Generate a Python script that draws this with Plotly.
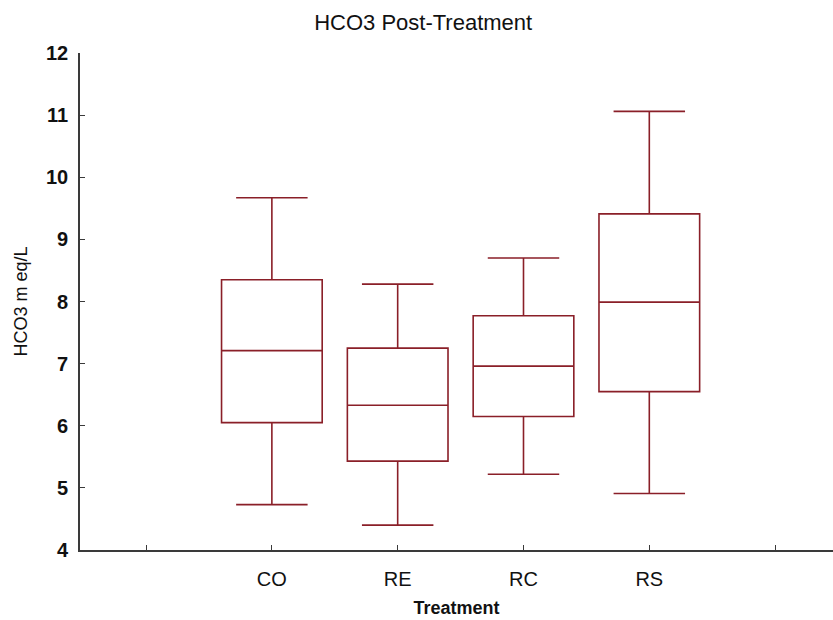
import plotly.graph_objects as go

categories = ["CO", "RE", "RC", "RS"]
positions = [1, 2, 3, 4]
lower_whisker = [4.73, 4.40, 5.22, 4.91]
q1_values = [6.05, 5.43, 6.15, 6.55]
median_values = [7.21, 6.33, 6.96, 7.99]
q3_values = [8.35, 7.25, 7.77, 9.41]
upper_whisker = [9.67, 8.28, 8.70, 11.06]

tick_positions = [0, 1, 2, 3, 4, 5]
tick_labels = [""] + categories + [""]
y_ticks = [4, 5, 6, 7, 8, 9, 10, 11, 12]

box_color = "#8a1f28"
axis_color = "#3a3a3a"
font_family = "Liberation Sans, Arial, sans-serif"

fig = go.Figure()
fig.add_trace(go.Box(
    x=positions,
    q1=q1_values,
    median=median_values,
    q3=q3_values,
    lowerfence=lower_whisker,
    upperfence=upper_whisker,
    width=0.8,
    whiskerwidth=0.71,
    line=dict(color=box_color, width=1.6),
    fillcolor="rgba(255,255,255,0)",
    boxpoints=False,
    showlegend=False,
))

fig.update_layout(
    width=833,
    height=620,
    margin=dict(l=80, r=0, t=53, b=70),
    paper_bgcolor="white",
    plot_bgcolor="white",
    font=dict(family=font_family, color="#111111"),
    title=dict(
        text="HCO3 Post-Treatment",
        x=0.508, xanchor="center",
        y=1 - 22 / 620, yanchor="middle",
        font=dict(size=22, family=font_family, color="#111111"),
    ),
    xaxis=dict(
        range=[-0.525, 5.46],
        tickmode="array",
        tickvals=tick_positions,
        ticktext=tick_labels,
        ticks="inside",
        ticklen=5,
        tickcolor=axis_color,
        tickwidth=1.2,
        showline=True,
        linecolor=axis_color,
        linewidth=1.6,
        showgrid=False,
        zeroline=False,
        ticklabelstandoff=10,
        tickfont=dict(size=20, family=font_family),
        title=dict(text="<b>Treatment</b>", standoff=13, font=dict(size=18, family=font_family)),
    ),
    yaxis=dict(
        range=[4, 12],
        tickmode="array",
        tickvals=y_ticks,
        ticktext=["<b>%d</b>" % v for v in y_ticks],
        ticks="inside",
        ticklen=5,
        tickcolor=axis_color,
        tickwidth=1.2,
        showline=True,
        linecolor=axis_color,
        linewidth=1.6,
        showgrid=False,
        zeroline=False,
        ticklabelstandoff=6,
        tickfont=dict(size=20, family=font_family),
        title=dict(text="HCO3 m eq/L", standoff=14, font=dict(size=18, family=font_family)),
    ),
)

fig.write_html("out.html")
